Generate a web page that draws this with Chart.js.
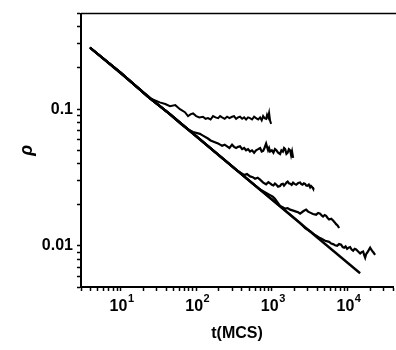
<!DOCTYPE html>
<html>
<head>
<meta charset="utf-8">
<script src="https://cdn.jsdelivr.net/npm/chart.js@4.4.1/dist/chart.umd.min.js"></script>
<style>
  html, body { margin: 0; padding: 0; background: #fff; }
</style>
</head>
<body>
<canvas id="mychart" width="396" height="350"></canvas>
<script>
// Reference power-law line --
const tLine = [3.9, 14700];
const rhoLine = [0.283, 0.0063];

// Simulation curves --
const tA = [4, 10, 24, 33, 39, 45, 53, 61, 71, 78, 85, 91, 100, 110, 123, 133, 143, 155, 167, 180, 195, 207, 220, 238, 256, 275, 298, 317, 337, 358, 380, 405, 430, 457, 485, 515, 548, 583, 619, 660, 700, 735, 767, 800, 840, 865, 893, 920, 950, 980];
const rhoA = [0.28, 0.185, 0.121, 0.112, 0.109, 0.105, 0.107, 0.100, 0.095, 0.089, 0.092, 0.093, 0.089, 0.087, 0.088, 0.085, 0.086, 0.084, 0.089, 0.087, 0.086, 0.089, 0.087, 0.085, 0.088, 0.086, 0.088, 0.089, 0.085, 0.087, 0.088, 0.085, 0.087, 0.084, 0.087, 0.086, 0.084, 0.088, 0.086, 0.084, 0.087, 0.083, 0.089, 0.086, 0.085, 0.091, 0.087, 0.094, 0.082, 0.078];

const tB = [4, 10, 24, 45, 61, 78, 91, 112, 123, 143, 155, 167, 180, 195, 207, 220, 238, 256, 275, 298, 317, 337, 358, 380, 405, 430, 457, 485, 515, 548, 583, 619, 660, 700, 735, 767, 800, 840, 865, 893, 920, 950, 1000, 1050, 1100, 1150, 1210, 1285, 1340, 1400, 1450, 1500, 1560, 1620, 1680, 1745, 1800, 1850, 1910];
const rhoB = [0.28, 0.185, 0.121, 0.092, 0.079, 0.071, 0.068, 0.066, 0.064, 0.061, 0.059, 0.058, 0.057, 0.056, 0.055, 0.054, 0.055, 0.0535, 0.052, 0.055, 0.053, 0.052, 0.053, 0.0535, 0.051, 0.052, 0.050, 0.051, 0.049, 0.050, 0.048, 0.050, 0.051, 0.052, 0.049, 0.0495, 0.052, 0.056, 0.053, 0.050, 0.052, 0.049, 0.050, 0.048, 0.051, 0.050, 0.048, 0.047, 0.050, 0.049, 0.052, 0.051, 0.047, 0.048, 0.051, 0.050, 0.046, 0.049, 0.044];

const tC = [4, 10, 24, 45, 100, 207, 281, 337, 380, 430, 470, 516, 560, 600, 650, 700, 770, 840, 900, 950, 1000, 1050, 1100, 1150, 1210, 1285, 1340, 1400, 1450, 1500, 1560, 1620, 1680, 1745, 1830, 1910, 2000, 2100, 2230, 2366, 2450, 2550, 2650, 2754, 2850, 2950, 3080, 3210, 3300, 3400, 3500, 3622];
const rhoC = [0.28, 0.185, 0.121, 0.092, 0.0634, 0.0452, 0.0393, 0.036, 0.0345, 0.033, 0.0335, 0.0322, 0.0318, 0.031, 0.0315, 0.0305, 0.029, 0.0282, 0.0292, 0.0286, 0.028, 0.0277, 0.0286, 0.028, 0.0271, 0.0274, 0.0283, 0.0285, 0.0276, 0.0282, 0.029, 0.0295, 0.0287, 0.0285, 0.0279, 0.029, 0.0284, 0.028, 0.0288, 0.0291, 0.0283, 0.028, 0.0287, 0.0284, 0.0276, 0.0275, 0.0281, 0.0268, 0.0274, 0.027, 0.0263, 0.0257];

const tD = [4, 10, 24, 45, 100, 281, 516, 700, 949, 1030, 1105, 1190, 1285, 1390, 1497, 1620, 1745, 1920, 2094, 2230, 2366, 2600, 2840, 3020, 3210, 3500, 3850, 4100, 4350, 4550, 4760, 5000, 5220, 5470, 5720, 6100, 6460, 6750, 7080, 7400, 7760];
const rhoD = [0.28, 0.185, 0.121, 0.092, 0.0634, 0.0393, 0.0296, 0.0258, 0.0235, 0.0229, 0.0220, 0.0208, 0.0196, 0.0192, 0.0187, 0.0189, 0.0184, 0.0181, 0.0178, 0.0176, 0.0172, 0.0179, 0.0184, 0.0178, 0.0175, 0.0171, 0.0169, 0.0174, 0.0172, 0.0167, 0.0164, 0.0168, 0.0166, 0.0160, 0.0156, 0.0158, 0.0153, 0.0149, 0.0144, 0.0141, 0.0135];

const tE = [4, 10, 24, 45, 100, 281, 516, 949, 1745, 2366, 2754, 3210, 3733, 4350, 5070, 5720, 6100, 6460, 6850, 7300, 7750, 8250, 8650, 9040, 9450, 9890, 10350, 10840, 11350, 11890, 12450, 13030, 13850, 14720, 15400, 16110, 16600, 17140, 17650, 18200, 19100, 19950, 20600, 21200, 22200, 23200];
const rhoE = [0.28, 0.185, 0.121, 0.092, 0.0634, 0.0393, 0.0296, 0.0224, 0.0169, 0.0147, 0.0135, 0.0128, 0.0120, 0.0114, 0.0109, 0.0107, 0.0104, 0.0103, 0.0101, 0.0100, 0.0103, 0.0102, 0.0098, 0.0097, 0.0099, 0.0095, 0.0097, 0.0098, 0.0094, 0.0092, 0.0095, 0.0094, 0.0091, 0.0088, 0.0090, 0.0091, 0.0086, 0.0082, 0.0087, 0.0089, 0.0093, 0.0097, 0.0094, 0.0092, 0.0089, 0.0086];

// Axis labels --
const xMajor = [10, 100, 1000, 10000];
const xMajorExp = ['1', '2', '3', '4'];
const yMajor = [0.01, 0.1];
const yMajorLabels = ['0.01', '0.1'];

const toPoints = (ts, rs) => ts.map((t, i) => ({x: t, y: rs[i]}));

// log minor ticks between min and max --
function logTicks(min, max) {
    let out = [];
    for (let e = Math.floor(Math.log10(min)); e <= Math.ceil(Math.log10(max)); e++) {
        for (let m = 1; m <= 9; m++) {
            const v = m * Math.pow(10, e);
            if (v >= min * 0.999 && v <= max * 1.001) out.push({value: v});
        }
    }
    return out;
}

function majorLabel(v, majors, labels) {
    for (let i = 0; i < majors.length; i++) {
        if (Math.abs(v - majors[i]) / majors[i] < 1e-6) return labels[i];
    }
    return '';
}

// top frame line + "10^n" labels on the x axis
const decor = {
    id: 'decor',
    afterDraw: (chart) => {
        const {ctx, chartArea} = chart;
        const xs = chart.scales.x;
        ctx.save();
        ctx.strokeStyle = '#000';
        ctx.lineWidth = 1.5;
        ctx.beginPath();
        ctx.moveTo(chartArea.left, chartArea.top);
        ctx.lineTo(chart.width, chartArea.top);
        ctx.stroke();

        ctx.fillStyle = '#000';
        ctx.textBaseline = 'alphabetic';
        ctx.textAlign = 'left';
        xMajor.forEach((v, i) => {
            const px = xs.getPixelForValue(v);
            ctx.font = 'bold 16px "Liberation Sans"';
            const w1 = ctx.measureText('10').width;
            ctx.font = 'bold 11px "Liberation Sans"';
            const w2 = ctx.measureText(xMajorExp[i]).width;
            const x0 = px - (w1 + w2) / 2 + 1;
            ctx.font = 'bold 16px "Liberation Sans"';
            ctx.fillText('10', x0, chartArea.bottom + 24);
            ctx.font = 'bold 11px "Liberation Sans"';
            ctx.fillText(xMajorExp[i], x0 + w1 + 0.5, chartArea.bottom + 15);
        });
        ctx.restore();
    }
};

const curve = (ts, rs, w) => ({
    data: toPoints(ts, rs),
    showLine: true,
    borderColor: '#000',
    borderWidth: w,
    pointRadius: 0,
    tension: 0,
    fill: false
});

const ctx = document.getElementById('mychart').getContext('2d');
const chart = new Chart(ctx, {
    type: 'scatter',
    data: {
        datasets: [
            curve(tA, rhoA, 2),
            curve(tB, rhoB, 2.2),
            curve(tC, rhoC, 2.2),
            curve(tD, rhoD, 2.2),
            curve(tE, rhoE, 2.2),
            curve(tLine, rhoLine, 2.4)
        ]
    },
    options: {
        responsive: false,
        animation: false,
        layout: { padding: {top: 8, right: 3, left: 0, bottom: 0} },
        plugins: { legend: {display: false}, tooltip: {enabled: false} },
        scales: {
            x: {
                type: 'logarithmic',
                min: 3,
                max: 40000,
                afterFit: (s) => { s.height = 63; },
                afterBuildTicks: (s) => { s.ticks = logTicks(3, 40000); },
                border: {color: '#000', width: 2},
                grid: {drawOnChartArea: false, tickLength: 4, color: '#000', tickWidth: 1.5},
                ticks: {
                    autoSkip: false, maxRotation: 0, padding: 2, color: '#000',
                    font: {family: 'Liberation Sans', size: 16, weight: 'bold'},
                    callback: () => ''
                },
                title: {
                    display: true, text: 't(MCS)', color: '#000',
                    font: {family: 'Liberation Sans', size: 16, weight: 'bold'},
                    padding: {top: 0, bottom: 7}
                }
            },
            y: {
                type: 'logarithmic',
                min: 0.005,
                max: 0.5,
                afterFit: (s) => { s.width = 81; },
                afterBuildTicks: (s) => { s.ticks = logTicks(0.005, 0.5); },
                border: {color: '#000', width: 2},
                grid: {drawOnChartArea: false, tickLength: 4, color: '#000', tickWidth: 1.5},
                ticks: {
                    autoSkip: false, padding: 4, color: '#000',
                    font: {family: 'Liberation Sans', size: 16, weight: 'bold'},
                    callback: (v) => majorLabel(v, yMajor, yMajorLabels)
                },
                title: {
                    display: true, text: '\u03c1', color: '#000',
                    font: {family: 'Liberation Sans', size: 18, style: 'italic', weight: 'bold'},
                    padding: {top: 16, bottom: 0}
                }
            }
        }
    },
    plugins: [decor]
});
</script>
</body>
</html>
